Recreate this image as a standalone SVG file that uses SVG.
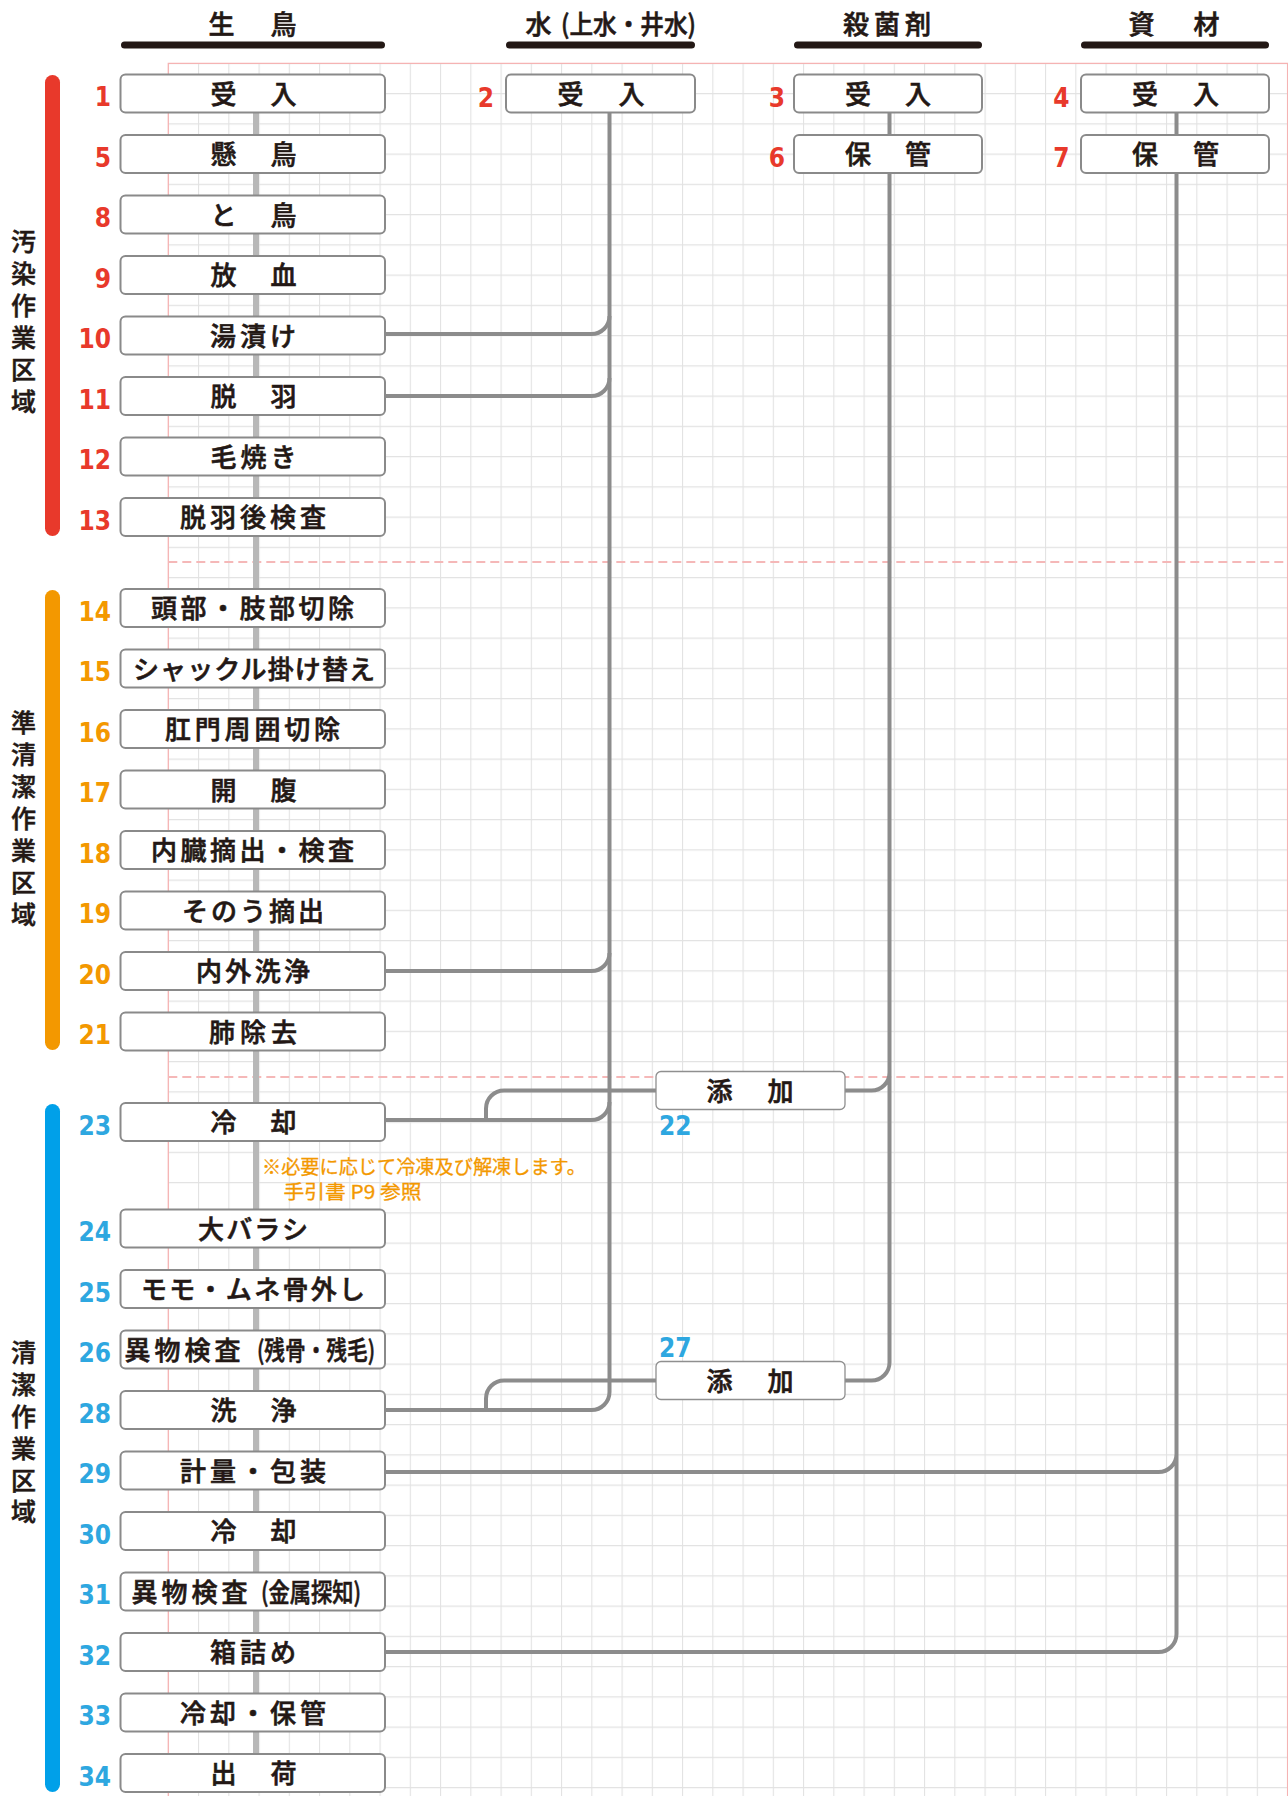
<svg xmlns="http://www.w3.org/2000/svg" width="1288" height="1796" viewBox="0 0 1288 1796">
<style>
.lbl{font-family:"Noto Sans CJK JP","Noto Sans CJK SC",sans-serif;font-weight:500;font-size:26px;fill:#231815;stroke:#231815;stroke-width:0.6px;text-anchor:middle}
.hdr{font-family:"Noto Sans CJK JP","Noto Sans CJK SC",sans-serif;font-weight:500;font-size:26px;fill:#231815;stroke:#231815;stroke-width:0.6px}
.zone{font-family:"Noto Sans CJK JP","Noto Sans CJK SC",sans-serif;font-weight:500;font-size:25px;fill:#231815;stroke:#231815;stroke-width:0.5px;text-anchor:middle}
.num{font-family:"DejaVu Sans Condensed","DejaVu Sans",sans-serif;font-stretch:condensed;font-weight:bold;font-size:26px;text-anchor:end}
.red{fill:#e8392b}.org{fill:#f39800}.blu{fill:#2ea7e0}
.box{fill:#fff;stroke:#8a8a8a;stroke-width:2}
.box2{fill:#fff;stroke:#8f8f8f;stroke-width:1.3}
.con{fill:none;stroke:#8c8c8c;stroke-width:4}
.note{font-family:"Noto Sans CJK JP","Noto Sans CJK SC",sans-serif;font-size:19px;fill:#f39800;stroke:#f39800;stroke-width:0.3px}
</style>
<defs>
<pattern id="grid" x="167.8" y="62.8" width="30.25" height="30.25" patternUnits="userSpaceOnUse">
<path d="M0 0.5H30.25M0.5 0V30.25" fill="none" stroke="#e2e2e2" stroke-width="1.2"/>
</pattern>
</defs>
<rect width="1288" height="1796" fill="#fff"/>
<g id="grid-area">
<rect x="168.3" y="63.3" width="1119.3" height="1733" fill="url(#grid)"/>
<path d="M168.3 1796V63.3H1287.6V1796" fill="none" stroke="#f5b3b3" stroke-width="1.3"/>
<path d="M168.3 562H1287.6M168.3 1077H1287.6" fill="none" stroke="#f5b8b8" stroke-width="2" stroke-dasharray="9 5"/>
</g>
<g id="headers">
<g id="h-seicho"><rect x="121" y="41.5" width="264" height="7" rx="3.5" fill="#231815"/><text class="hdr" x="252.5" y="34" text-anchor="middle" textLength="88" lengthAdjust="spacing">生　鳥</text></g>
<g id="h-water"><rect x="506" y="41.5" width="189" height="7" rx="3.5" fill="#231815"/><text class="hdr" x="525.5" y="34">水</text><text class="hdr" x="561" y="34" textLength="135" lengthAdjust="spacingAndGlyphs">(上水・井水)</text></g>
<g id="h-sakkin"><rect x="794" y="41.5" width="188" height="7" rx="3.5" fill="#231815"/><text class="hdr" x="887" y="34" text-anchor="middle" textLength="88" lengthAdjust="spacing">殺菌剤</text></g>
<g id="h-shizai"><rect x="1081" y="41.5" width="188" height="7" rx="3.5" fill="#231815"/><text class="hdr" x="1174" y="34" text-anchor="middle" textLength="91" lengthAdjust="spacing">資　材</text></g>
</g>
<g id="zones">
<rect x="45" y="75" width="15" height="461" rx="7.5" fill="#e8392b"/>
<rect x="45" y="590" width="15" height="460" rx="7.5" fill="#f39800"/>
<rect x="45" y="1104" width="15" height="688" rx="7.5" fill="#00a0e9"/>
<text class="zone" x="23.5 23.5 23.5 23.5 23.5 23.5" y="251 283 315 347 379 411">汚染作業区域</text>
<text class="zone" x="23.5 23.5 23.5 23.5 23.5 23.5 23.5" y="731.5 763.5 795.5 827.5 859.5 891.5 923.5">準清潔作業区域</text>
<text class="zone" x="23.5 23.5 23.5 23.5 23.5 23.5" y="1361.5 1393.5 1425.5 1457.5 1489.5 1520.5">清潔作業区域</text>
</g>
<g id="connectors">
<path d="M256 100V1773" fill="none" stroke="#b8b8b8" stroke-width="6"/>
<path class="con" d="M609.5 110V1392A18 18 0 0 1 591.5 1410H385"/>
<path class="con" d="M385 334H591.5A18 18 0 0 0 609.5 316"/>
<path class="con" d="M385 396H591.5A18 18 0 0 0 609.5 378"/>
<path class="con" d="M385 971H591.5A18 18 0 0 0 609.5 953"/>
<path class="con" d="M385 1120H591.5A18 18 0 0 0 609.5 1102"/>
<path class="con" d="M656 1090.5H504A18 18 0 0 0 486 1108.5V1120"/>
<path class="con" d="M656 1380.5H504A18 18 0 0 0 486 1398.5V1410"/>
<path class="con" d="M889.5 100V150M889.5 170V1362.5A18 18 0 0 1 871.5 1380.5H845M889.5 1072.5A18 18 0 0 1 871.5 1090.5H845"/>
<path class="con" d="M1176.5 100V150M1176.5 170V1634A18 18 0 0 1 1158.5 1652H385M1176.5 1454A18 18 0 0 1 1158.5 1472H385"/>
</g>
<g id="n1"><rect class="box" x="120.5" y="74.5" width="264.5" height="38" rx="5"/><text class="num red" x="111" y="106">1</text><text class="lbl" x="253.5" y="103.5" textLength="86" lengthAdjust="spacing">受　入</text></g>
<g id="n5"><rect class="box" x="120.5" y="135" width="264.5" height="38" rx="5"/><text class="num red" x="111" y="166.5">5</text><text class="lbl" x="253.5" y="164" textLength="86" lengthAdjust="spacing">懸　鳥</text></g>
<g id="n8"><rect class="box" x="120.5" y="195.5" width="264.5" height="38" rx="5"/><text class="num red" x="111" y="227">8</text><text class="lbl" x="253.5" y="224.5" textLength="86" lengthAdjust="spacing">と　鳥</text></g>
<g id="n9"><rect class="box" x="120.5" y="256" width="264.5" height="38" rx="5"/><text class="num red" x="111" y="287.5">9</text><text class="lbl" x="253.5" y="285" textLength="86" lengthAdjust="spacing">放　血</text></g>
<g id="n10"><rect class="box" x="120.5" y="316.5" width="264.5" height="38" rx="5"/><text class="num red" x="111" y="348">10</text><text class="lbl" x="253" y="345.5" textLength="86" lengthAdjust="spacing">湯漬け</text></g>
<g id="n11"><rect class="box" x="120.5" y="377" width="264.5" height="38" rx="5"/><text class="num red" x="111" y="408.5">11</text><text class="lbl" x="253.5" y="406" textLength="86" lengthAdjust="spacing">脱　羽</text></g>
<g id="n12"><rect class="box" x="120.5" y="437.5" width="264.5" height="38" rx="5"/><text class="num red" x="111" y="469">12</text><text class="lbl" x="253.5" y="466.5" textLength="86" lengthAdjust="spacing">毛焼き</text></g>
<g id="n13"><rect class="box" x="120.5" y="498" width="264.5" height="38" rx="5"/><text class="num red" x="111" y="529.5">13</text><text class="lbl" x="253" y="527" textLength="146" lengthAdjust="spacing">脱羽後検査</text></g>
<g id="n14"><rect class="box" x="120.5" y="589" width="264.5" height="38" rx="5"/><text class="num org" x="111" y="620.5">14</text><text class="lbl" x="252.5" y="618" textLength="203" lengthAdjust="spacing">頭部・肢部切除</text></g>
<g id="n15"><rect class="box" x="120.5" y="649.5" width="264.5" height="38" rx="5"/><text class="num org" x="111" y="681">15</text><text class="lbl" x="254" y="678.5" textLength="242" lengthAdjust="spacing">シャックル掛け替え</text></g>
<g id="n16"><rect class="box" x="120.5" y="710" width="264.5" height="38" rx="5"/><text class="num org" x="111" y="741.5">16</text><text class="lbl" x="252.5" y="739" textLength="175" lengthAdjust="spacing">肛門周囲切除</text></g>
<g id="n17"><rect class="box" x="120.5" y="770.5" width="264.5" height="38" rx="5"/><text class="num org" x="111" y="802">17</text><text class="lbl" x="253.5" y="799.5" textLength="86" lengthAdjust="spacing">開　腹</text></g>
<g id="n18"><rect class="box" x="120.5" y="831" width="264.5" height="38" rx="5"/><text class="num org" x="111" y="862.5">18</text><text class="lbl" x="252.5" y="860" textLength="203" lengthAdjust="spacing">内臓摘出・検査</text></g>
<g id="n19"><rect class="box" x="120.5" y="891.5" width="264.5" height="38" rx="5"/><text class="num org" x="111" y="923">19</text><text class="lbl" x="253" y="920.5" textLength="142" lengthAdjust="spacing">そのう摘出</text></g>
<g id="n20"><rect class="box" x="120.5" y="952" width="264.5" height="38" rx="5"/><text class="num org" x="111" y="983.5">20</text><text class="lbl" x="253" y="981" textLength="114" lengthAdjust="spacing">内外洗浄</text></g>
<g id="n21"><rect class="box" x="120.5" y="1012.5" width="264.5" height="38" rx="5"/><text class="num org" x="111" y="1044">21</text><text class="lbl" x="253" y="1041.5" textLength="88" lengthAdjust="spacing">肺除去</text></g>
<g id="n23"><rect class="box" x="120.5" y="1103" width="264.5" height="38" rx="5"/><text class="num blu" x="111" y="1134.5">23</text><text class="lbl" x="253.5" y="1132" textLength="86" lengthAdjust="spacing">冷　却</text></g>
<g id="note"><text class="note" x="262" y="1173.5" textLength="324" lengthAdjust="spacingAndGlyphs">※必要に応じて冷凍及び解凍します。</text><text class="note" x="283.5" y="1199" textLength="138" lengthAdjust="spacingAndGlyphs">手引書 P9 参照</text></g>
<g id="n24"><rect class="box" x="120.5" y="1209.5" width="264.5" height="38" rx="5"/><text class="num blu" x="111" y="1241">24</text><text class="lbl" x="253" y="1238.5" textLength="110" lengthAdjust="spacing">大バラシ</text></g>
<g id="n25"><rect class="box" x="120.5" y="1270" width="264.5" height="38" rx="5"/><text class="num blu" x="111" y="1301.5">25</text><text class="lbl" x="253" y="1299" textLength="224" lengthAdjust="spacing">モモ・ムネ骨外し</text></g>
<g id="n26"><rect class="box" x="120.5" y="1330.5" width="264.5" height="38" rx="5"/><text class="num blu" x="111" y="1362">26</text><text class="lbl" x="124.5" y="1359.5" textLength="116" lengthAdjust="spacing" style="text-anchor:start">異物検査</text><text class="lbl" x="257" y="1359.5" textLength="118" lengthAdjust="spacingAndGlyphs" style="text-anchor:start">(残骨・残毛)</text></g>
<g id="n28"><rect class="box" x="120.5" y="1391" width="264.5" height="38" rx="5"/><text class="num blu" x="111" y="1422.5">28</text><text class="lbl" x="253.5" y="1420" textLength="86" lengthAdjust="spacing">洗　浄</text></g>
<g id="n29"><rect class="box" x="120.5" y="1451.5" width="264.5" height="38" rx="5"/><text class="num blu" x="111" y="1483">29</text><text class="lbl" x="253" y="1480.5" textLength="146" lengthAdjust="spacing">計量・包装</text></g>
<g id="n30"><rect class="box" x="120.5" y="1512" width="264.5" height="38" rx="5"/><text class="num blu" x="111" y="1543.5">30</text><text class="lbl" x="253.5" y="1541" textLength="86" lengthAdjust="spacing">冷　却</text></g>
<g id="n31"><rect class="box" x="120.5" y="1572.5" width="264.5" height="38" rx="5"/><text class="num blu" x="111" y="1604">31</text><text class="lbl" x="131.5" y="1601.5" textLength="116" lengthAdjust="spacing" style="text-anchor:start">異物検査</text><text class="lbl" x="261" y="1601.5" textLength="100" lengthAdjust="spacingAndGlyphs" style="text-anchor:start">(金属探知)</text></g>
<g id="n32"><rect class="box" x="120.5" y="1633" width="264.5" height="38" rx="5"/><text class="num blu" x="111" y="1664.5">32</text><text class="lbl" x="253" y="1662" textLength="86" lengthAdjust="spacing">箱詰め</text></g>
<g id="n33"><rect class="box" x="120.5" y="1693.5" width="264.5" height="38" rx="5"/><text class="num blu" x="111" y="1725">33</text><text class="lbl" x="253" y="1722.5" textLength="146" lengthAdjust="spacing">冷却・保管</text></g>
<g id="n34"><rect class="box" x="120.5" y="1754" width="264.5" height="38" rx="5"/><text class="num blu" x="111" y="1785.5">34</text><text class="lbl" x="253.5" y="1783" textLength="86" lengthAdjust="spacing">出　荷</text></g>
<g id="n2"><rect class="box" x="506" y="74.5" width="189" height="38" rx="5"/><text class="num red" x="494" y="106.5">2</text><text class="lbl" x="601" y="103.5" textLength="87" lengthAdjust="spacing">受　入</text></g>
<g id="n3"><rect class="box" x="794" y="74.5" width="188" height="38" rx="5"/><text class="num red" x="785" y="106.5">3</text><text class="lbl" x="888" y="103.5" textLength="86" lengthAdjust="spacing">受　入</text></g>
<g id="n6"><rect class="box" x="794" y="135" width="188" height="38" rx="5"/><text class="num red" x="785" y="167">6</text><text class="lbl" x="888" y="164" textLength="86" lengthAdjust="spacing">保　管</text></g>
<g id="n4"><rect class="box" x="1081" y="74.5" width="188" height="38" rx="5"/><text class="num red" x="1069.5" y="106.5">4</text><text class="lbl" x="1175.5" y="103.5" textLength="87" lengthAdjust="spacing">受　入</text></g>
<g id="n7"><rect class="box" x="1081" y="135" width="188" height="38" rx="5"/><text class="num red" x="1069.5" y="167">7</text><text class="lbl" x="1175.5" y="164" textLength="87" lengthAdjust="spacing">保　管</text></g>
<g id="n22"><rect class="box2" x="656" y="1071.5" width="189" height="38" rx="5"/><text class="num blu" x="659" y="1135" style="text-anchor:start">22</text><text class="lbl" x="750" y="1100.5" textLength="87" lengthAdjust="spacing">添　加</text></g>
<g id="n27"><rect class="box2" x="656" y="1361.5" width="189" height="38" rx="5"/><text class="num blu" x="659" y="1356.5" style="text-anchor:start">27</text><text class="lbl" x="750" y="1390.5" textLength="87" lengthAdjust="spacing">添　加</text></g>
</svg>
